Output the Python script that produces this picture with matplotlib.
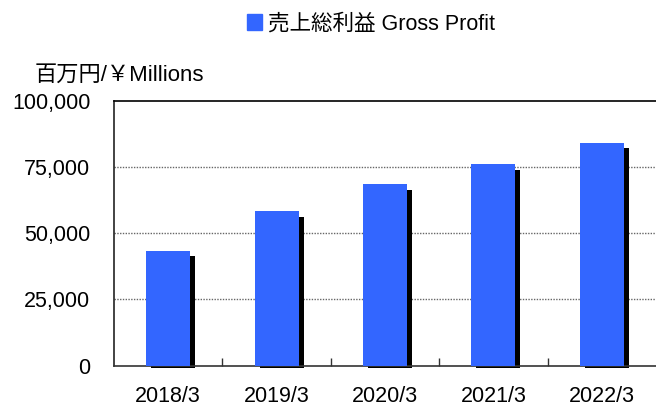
import numpy as np
import matplotlib
matplotlib.use("Agg")
import matplotlib.pyplot as plt
import matplotlib.transforms as mtransforms
from matplotlib.patches import Patch

# data
years = ["2018/3", "2019/3", "2020/3", "2021/3", "2022/3"]
gross_profit = [43300, 58400, 68500, 76100, 84300]
yticks = [0, 25000, 50000, 75000, 100000]

latin = ["Liberation Sans", "Noto Sans CJK JP", "DejaVu Sans"]
blue = "#3366FF"

fig = plt.figure(figsize=(6.56, 4.08), dpi=100)
ax = fig.add_axes([114 / 656, 1 - 365.5 / 408, 542 / 656, 264.5 / 408])

ind = np.arange(len(years))
width = 0.405

# drop shadow: same bars shifted right/down a few pixels, ending just under the axis
shadow_off = mtransforms.ScaledTranslation(5 / 100, -5.5 / 100, fig.dpi_scale_trans)
lift = 1300
shadow = ax.bar(ind, [v - lift for v in gross_profit], width, bottom=lift,
                color="black", zorder=2, transform=ax.transData + shadow_off)
for r in shadow:
    r.set_clip_on(False)
bars = ax.bar(ind, gross_profit, width, color=blue, zorder=3)

ax.set_xlim(-0.5, len(years) - 0.5)
ax.set_ylim(0, 100000)

# dotted horizontal grid
for y in yticks[1:-1]:
    ax.axhline(y, color="#666666", linestyle=(0, (1, 1)), linewidth=1, zorder=1)

ax.set_yticks(yticks)
ax.set_yticklabels(["{:,}".format(v) for v in yticks], family=latin, fontsize=15.5)
ax.tick_params(axis="y", length=0, pad=17)

# x ticks at category boundaries, labels at centres
ax.set_xticks(np.arange(0.5, len(years) - 0.5, 1))
ax.set_xticklabels([])
ax.set_xticks(ind, minor=True)
ax.set_xticklabels(years, minor=True, family=latin, fontsize=15.5)
ax.tick_params(axis="x", which="major", direction="in", length=6, width=1, color="#333333")
ax.tick_params(axis="x", which="minor", length=0, pad=15)

ax.spines["right"].set_visible(False)
ax.spines["top"].set_color("black")
ax.spines["left"].set_color("#222222")
ax.spines["bottom"].set_color("#333333")
for s in ["top", "left", "bottom"]:
    ax.spines[s].set_linewidth(1.2)

# unit label
fig.text(35 / 656, 1 - 81 / 408, "百万円/￥Millions", family=latin, fontsize=16,
         va="baseline")

# legend above the plot
fig.legend(handles=[Patch(color=blue, label="売上総利益 Gross Profit")],
           loc="center", bbox_to_anchor=(371 / 656, 1 - 24 / 408),
           frameon=False, prop={"family": latin, "size": 15.5},
           handlelength=0.7, handleheight=0.7, handletextpad=0.3)

plt.savefig("out.png", dpi=100)
